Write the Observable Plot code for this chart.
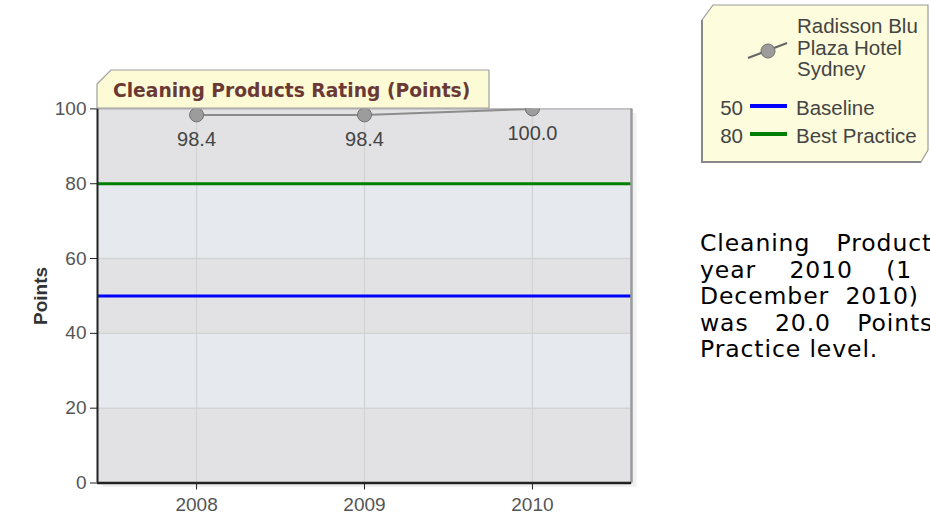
<!DOCTYPE html>
<html><head><meta charset="utf-8">
<script src="https://cdn.jsdelivr.net/npm/d3@7"></script>
<script src="https://cdn.jsdelivr.net/npm/@observablehq/plot@0.6"></script>
<style>
html,body{margin:0;padding:0;background:#fff;overflow:hidden;}
#wrap{position:relative;width:930px;height:523px;overflow:hidden;}
#wrap > *{position:absolute;left:0;top:0;}
#note{left:700px;top:230px;font-family:"DejaVu Sans",Verdana,sans-serif;font-size:23.5px;letter-spacing:0.9px;line-height:26.5px;color:#000;white-space:nowrap;}
</style></head>
<body><div id="wrap"></div>
<script>
// ---- data ----
const years = [2008, 2009, 2010];
const values = [98.4, 98.4, 100.0];
const seriesName = "Radisson Blu Plaza Hotel Sydney";
const refNames = ["Baseline", "Best Practice"];
const refValues = [50, 80];
const refColors = ["#0000ff", "#008000"];
const yTicks = [0, 20, 40, 60, 80, 100];
const chartTitle = "Cleaning Products Rating (Points)";
const yLabel = "Points";
const noteLines = [
  "Cleaning Products Rating for the",
  "year 2010 (1 January 2010 -",
  "December 2010) for Radisson",
  "was 20.0 Points above the Best",
  "Practice level."
];
const noteSpacing = [18, 25, 8, 18, 0];

const wrap = document.getElementById("wrap");
const data = years.map((y, i) => ({year: y, value: values[i]}));
const bands = yTicks.slice(0, -1).map((v, i) => ({y1: v, y2: yTicks[i + 1], i}));
const xPad = 0.59;
const xDomain = [d3.min(years) - xPad, d3.max(years) + xPad];

const plot = Plot.plot({
  width: 690, height: 523,
  marginLeft: 97, marginRight: 59, marginTop: 108.4, marginBottom: 40.5,
  style: {fontFamily: "'Liberation Sans', Arial, sans-serif", fontSize: "19px", background: "transparent", overflow: "visible"},
  x: {domain: xDomain},
  y: {domain: [0, 100]},
  marks: [
    Plot.frame({fill: "#f1f1f1", dx: 5, dy: 4}),
    Plot.rect(bands, {y1: "y1", y2: "y2", fill: d => d.i % 2 ? "#e6e9ed" : "#e2e2e4"}),
    Plot.ruleY(yTicks.slice(1, -1), {stroke: "#d3d3d3", strokeWidth: 1.5}),
    Plot.ruleX(years, {stroke: "#d3d3d3", strokeWidth: 1.2}),
    ...refValues.map((v, i) => Plot.ruleY([v], {stroke: refColors[i], strokeWidth: 3})),
    Plot.frame({stroke: "#a0a0a0", strokeWidth: 1}),
    Plot.ruleX([xDomain[1]], {stroke: "#9a9a9a", strokeWidth: 2.5}),
    Plot.ruleX([xDomain[0]], {stroke: "#222", strokeWidth: 2}),
    Plot.ruleY([0], {stroke: "#222", strokeWidth: 2.5}),
    Plot.line(data, {x: "year", y: "value", stroke: "#8c8c8c", strokeWidth: 2, clip: true}),
    Plot.dot(data, {x: "year", y: "value", r: 7, fill: "#9c9c9c", stroke: "#6f6f6f", strokeWidth: 1, clip: true}),
    Plot.text(data, {x: "year", y: "value", text: d => d.value.toFixed(1), dy: 25, fill: "#444", fontSize: 20}),
    Plot.axisY({ticks: yTicks, tickSize: 7, tickPadding: 4, stroke: "#222", fill: "#555", label: null}),
    Plot.axisX({ticks: years, tickFormat: d => String(d), tickSize: 7, tickPadding: 7, stroke: "#222", fill: "#555", label: null}),
    Plot.text([yLabel], {frameAnchor: "left", textAnchor: "middle", dx: -57, rotate: -90, fontWeight: "bold", fontSize: 19, fill: "#333"})
  ]
});
wrap.appendChild(plot);

// ---- title tab ----
const deco = d3.select(wrap).append("svg").attr("width", 930).attr("height", 523).style("pointer-events", "none");
deco.append("polygon")
  .attr("points", "97,84 111,70 489,70 489,108 97,108")
  .attr("fill", "#fdfbd6").attr("stroke", "#a0a0a0").attr("stroke-width", 1.2);
deco.append("text").attr("x", 113).attr("y", 97)
  .attr("font-family", "'DejaVu Sans', Verdana, sans-serif").attr("font-weight", "bold").attr("font-size", 18.7)
  .attr("fill", "#6b3935").text(chartTitle);

// ---- legend ----
const lg = deco.append("g").attr("font-family", "'Liberation Sans', Arial, sans-serif").attr("font-size", 20.5).attr("fill", "#444");
lg.append("polygon").attr("points", "702,20 713,5 928,5 928,150 921,162 702,162")
  .attr("fill", "#fdfcdc").attr("stroke", "#9a9a9a").attr("stroke-width", 1.2);
lg.append("polyline").attr("points", "702,20 702,162 921,162").attr("fill", "none").attr("stroke", "#888").attr("stroke-width", 2);
const ctx = document.createElement("canvas").getContext("2d");
ctx.font = "20.5px 'Liberation Sans', Arial";
const lines = [];
seriesName.split(" ").forEach(w => {
  const last = lines[lines.length - 1];
  if (last && ctx.measureText(last + " " + w).width <= 130) lines[lines.length - 1] = last + " " + w;
  else lines.push(w);
});
lines.forEach((t, i) => lg.append("text").attr("x", 797).attr("y", 33 + i * 21.5).text(t));
lg.append("line").attr("x1", 748).attr("y1", 58).attr("x2", 787).attr("y2", 43).attr("stroke", "#666").attr("stroke-width", 2);
lg.append("circle").attr("cx", 768).attr("cy", 51).attr("r", 7).attr("fill", "#9c9c9c").attr("stroke", "#6f6f6f");
refNames.forEach((name, i) => {
  const yb = 115 + i * 28;
  lg.append("text").attr("x", 743).attr("y", yb).attr("text-anchor", "end").text(refValues[i]);
  lg.append("line").attr("x1", 750).attr("x2", 787).attr("y1", yb - 9).attr("y2", yb - 9).attr("stroke", refColors[i]).attr("stroke-width", 4);
  lg.append("text").attr("x", 796).attr("y", yb).text(name);
});

// ---- note ----
const note = d3.select(wrap).append("div").attr("id", "note");
noteLines.forEach((t, i) => note.append("div").style("word-spacing", noteSpacing[i] + "px").text(t));
</script>
</body></html>
